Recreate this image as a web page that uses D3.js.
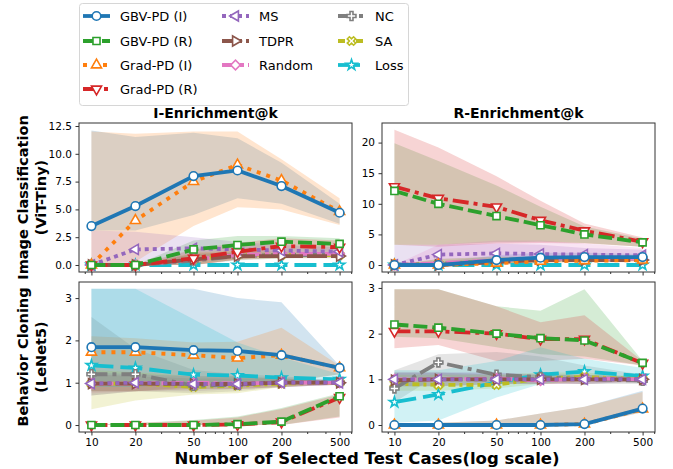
<!DOCTYPE html>
<html lang="en">
<head>
<meta charset="UTF-8">
<title>Enrichment@k – Image Classification and Behavior Cloning</title>
<script src="https://d3js.org/d3.v7.min.js"></script>
<style>
  body { margin: 0; background: #fff; font-family: "DejaVu Sans", sans-serif; }
  .tick text { fill: #000; font-size: 10.5px; font-family: "DejaVu Sans", sans-serif; }
  .tick line { stroke: #333; }
</style>
</head>
<body>
<div id="chart"></div>
<script>
  // x positions (number of selected test cases)
  var xVals = [10, 20, 50, 100, 200, 500];
  var xMinor = [9, 30, 40, 60, 70, 80, 90, 300, 400, 600];

  var seriesNames = ["GBV-PD (I)", "GBV-PD (R)", "Grad-PD (I)", "Grad-PD (R)", "MS",
                     "TDPR", "Random", "NC", "SA", "Loss"];

  // Image Classification (ViT-Tiny), I-Enrichment@k
  var icIMean = [
    [3.5, 5.3, 8.0, 8.5, 7.1, 4.7],
    [0, 0, 1.4, 1.8, 2.1, 1.9],
    [0, 4.0, 7.5, 9.0, 7.6, 4.8],
    [0, 0, 0.6, 1.2, 1.7, 1.6],
    [0, 1.4, 1.5, 1.4, 1.3, 1.2],
    [0, 0, 0.5, 0.8, 0.8, 0.8],
    [0, 0, 0.5, 0.9, 1.0, 1.0],
    [0, 0, 0.4, 0.8, 0.9, 0.9],
    [0, 0, 0.5, 0.9, 0.9, 0.9],
    [0, 0, 0, 0, 0, 0]
  ];
  var icILo = [
    [3.1, 3.1, 4.5, 6.0, 5.5, 3.7],
    [0, 0, 0.6, 1.0, 1.2, 1.2],
    [0, 0.3, 3.5, 5.2, 5.0, 3.6],
    [0, 0, 0, 0.5, 0.9, 1.0],
    [0, 0, 0.7, 0.8, 0.9, 0.9],
    [0, 0, 0, 0.5, 0.6, 0.6],
    [0, 0, 0, 0.5, 0.7, 0.8],
    [0, 0, 0, 0.4, 0.6, 0.7],
    [0, 0, 0, 0.5, 0.6, 0.7],
    [0, 0, 0, 0, 0, 0]
  ];
  var icIHi = [
    [12.1, 11.5, 11.9, 11.4, 9.2, 5.5],
    [0, 0, 2.2, 2.6, 2.6, 2.4],
    [12.0, 11.8, 12.0, 12.0, 9.5, 6.0],
    [0, 0, 1.4, 2.0, 2.4, 2.2],
    [3.1, 3.0, 2.5, 2.1, 1.8, 1.6],
    [0, 0, 1.0, 1.1, 1.0, 1.0],
    [0, 0, 1.1, 1.3, 1.3, 1.2],
    [0, 0, 1.0, 1.2, 1.2, 1.1],
    [0, 0, 1.1, 1.3, 1.2, 1.1],
    [0, 0, 0, 0, 0, 0]
  ];

  // Image Classification (ViT-Tiny), R-Enrichment@k
  var icRMean = [
    [0, 0, 0.8, 1.2, 1.3, 1.3],
    [12.1, 10.0, 8.0, 6.5, 5.0, 3.7],
    [0, 0, 0.3, 0.6, 0.7, 0.8],
    [12.8, 10.9, 9.5, 7.3, 5.6, 3.8],
    [0, 1.7, 1.9, 1.8, 1.7, 1.6],
    [0, 0, 0.5, 0.8, 0.8, 0.8],
    [0, 0.3, 0.8, 1.0, 1.0, 1.0],
    [0, 0.2, 0.6, 0.9, 0.9, 0.9],
    [0, 0.2, 0.7, 0.9, 1.0, 1.0],
    [0, 0, 0, 0, 0, 0]
  ];
  var icRLo = [
    [0, 0, 0.3, 0.6, 0.8, 0.8],
    [3.3, 3.3, 3.7, 3.8, 3.6, 3.0],
    [0, 0, 0, 0.3, 0.4, 0.5],
    [3.3, 3.0, 3.5, 3.6, 3.5, 3.0],
    [0, 0.6, 0.9, 0.9, 1.0, 1.0],
    [0, 0, 0, 0.5, 0.6, 0.6],
    [0, 0, 0.3, 0.6, 0.7, 0.8],
    [0, 0, 0.2, 0.5, 0.6, 0.7],
    [0, 0, 0.2, 0.5, 0.6, 0.7],
    [0, 0, 0, 0, 0, 0]
  ];
  var icRHi = [
    [0, 0.5, 1.6, 2.0, 2.0, 1.8],
    [19.9, 17.0, 13.0, 9.5, 6.3, 4.3],
    [0, 0.4, 0.8, 1.1, 1.2, 1.2],
    [22.1, 19.2, 14.5, 10.5, 6.8, 4.5],
    [3.3, 3.3, 3.5, 3.3, 2.8, 2.5],
    [0, 0, 1.0, 1.1, 1.1, 1.0],
    [0, 3.3, 4.0, 4.0, 3.5, 2.8],
    [0, 1.0, 1.4, 1.3, 1.3, 1.2],
    [0, 1.0, 1.3, 1.3, 1.3, 1.2],
    [0, 0, 0, 0, 0, 0]
  ];

  // Behavior Cloning (LeNet5), I-Enrichment@k
  var bcIMean = [
    [1.84, 1.84, 1.77, 1.75, 1.65, 1.35],
    [0, 0, 0, 0.02, 0.08, 0.68],
    [1.72, 1.72, 1.65, 1.58, 1.65, 1.35],
    [0, 0, 0, 0.01, 0.07, 0.65],
    [0.98, 1.0, 0.97, 0.97, 1.0, 1.0],
    [0.98, 0.98, 0.97, 0.97, 1.0, 1.0],
    [0.98, 0.98, 1.0, 0.98, 1.0, 1.0],
    [1.2, 1.2, 0.93, 0.95, 1.02, 1.0],
    [0.98, 0.98, 0.9, 0.93, 0.98, 1.0],
    [1.41, 1.35, 1.19, 1.17, 1.12, 1.08]
  ];
  var bcILo = [
    [0.8, 0.8, 0.9, 1.0, 1.0, 1.2],
    [0, 0, 0, 0, 0, 0.2],
    [0.8, 0.8, 0.9, 1.0, 1.0, 1.2],
    [0, 0, 0, 0, 0, 0.18],
    [0.7, 0.8, 0.8, 0.85, 0.9, 0.95],
    [0.8, 0.8, 0.85, 0.85, 0.9, 0.95],
    [0.75, 0.8, 0.85, 0.85, 0.9, 0.95],
    [0.7, 0.8, 0.75, 0.8, 0.9, 0.95],
    [0.37, 0.58, 0.72, 0.75, 0.9, 0.98],
    [0.9, 0.9, 1.0, 1.0, 1.0, 1.0]
  ];
  var bcIHi = [
    [3.22, 3.22, 3.22, 3.0, 2.9, 1.4],
    [0, 0.05, 0.12, 0.2, 0.4, 0.75],
    [2.1, 2.05, 1.95, 1.97, 2.3, 1.4],
    [0, 0.05, 0.1, 0.18, 0.38, 0.72],
    [1.25, 1.2, 1.15, 1.15, 1.1, 1.05],
    [1.2, 1.15, 1.1, 1.1, 1.1, 1.05],
    [1.2, 1.2, 1.15, 1.15, 1.1, 1.05],
    [2.55, 1.8, 1.3, 1.2, 1.15, 1.05],
    [1.3, 1.25, 1.15, 1.15, 1.1, 1.02],
    [3.22, 3.22, 2.5, 1.95, 1.6, 1.2]
  ];

  // Behavior Cloning (LeNet5), R-Enrichment@k
  var bcRMean = [
    [0, 0, 0, 0, 0.02, 0.36],
    [2.2, 2.13, 2.0, 1.9, 1.85, 1.36],
    [0, 0, 0, 0, 0.02, 0.35],
    [2.05, 2.05, 2.0, 1.88, 1.88, 1.35],
    [1.0, 1.0, 1.0, 1.0, 1.0, 1.0],
    [0.98, 1.0, 1.0, 1.0, 1.0, 1.0],
    [1.0, 1.0, 1.02, 0.97, 1.02, 1.0],
    [0.8, 1.37, 1.1, 1.05, 1.0, 0.97],
    [0.9, 0.88, 0.88, 1.02, 1.05, 1.0],
    [0.5, 0.67, 0.93, 1.1, 1.17, 1.07]
  ];
  var bcRLo = [
    [0, 0, 0, 0, 0, 0.28],
    [1.93, 1.9, 1.7, 1.55, 1.5, 1.3],
    [0, 0, 0, 0, 0, 0.28],
    [1.68, 1.75, 1.4, 1.4, 1.45, 1.3],
    [0.85, 0.85, 0.9, 0.9, 0.9, 0.95],
    [0.85, 0.85, 0.9, 0.9, 0.9, 0.95],
    [0.85, 0.85, 0.9, 0.9, 0.95, 0.95],
    [0.5, 1.1, 0.9, 0.95, 0.9, 0.9],
    [0.75, 0.75, 0.8, 0.9, 0.95, 0.95],
    [0.05, 0.1, 0.6, 0.9, 1.0, 0.95]
  ];
  var bcRHi = [
    [0, 0.05, 0.1, 0.25, 0.4, 0.75],
    [2.97, 2.97, 2.6, 2.5, 2.97, 1.4],
    [0, 0.05, 0.1, 0.25, 0.4, 0.72],
    [2.97, 2.97, 2.6, 2.25, 2.4, 1.4],
    [1.15, 1.15, 1.15, 1.1, 1.1, 1.05],
    [1.15, 1.15, 1.1, 1.1, 1.1, 1.05],
    [1.15, 1.15, 1.15, 1.1, 1.1, 1.05],
    [1.2, 1.55, 1.6, 1.5, 1.3, 1.1],
    [1.1, 1.1, 1.1, 1.15, 1.15, 1.05],
    [1.2, 1.2, 1.4, 1.7, 1.45, 1.25]
  ];

  var icITicks = [0, 2.5, 5, 7.5, 10, 12.5];
  var icRTicks = [0, 5, 10, 15, 20];
  var bcTicks = [0, 1, 2, 3];

  // styling per series (marker area in px^2)
  var styles = [
    { color: "#1f77b4", dash: null,          shape: d3.symbolCircle,   rot: 0,   size: 58 },
    { color: "#2ca02c", dash: "14,5",        shape: d3.symbolSquare,   rot: 0,   size: 50 },
    { color: "#ff7f0e", dash: "4,6",         shape: d3.symbolTriangle, rot: 0,   size: 44 },
    { color: "#d62728", dash: "16,5,4,5",    shape: d3.symbolTriangle, rot: 180, size: 44 },
    { color: "#9467bd", dash: "4,4",         shape: d3.symbolTriangle, rot: -90, size: 44 },
    { color: "#8c564b", dash: "20,4",        shape: d3.symbolTriangle, rot: 90,  size: 44 },
    { color: "#e377c2", dash: "14,4,4,4",    shape: d3.symbolSquare,   rot: 45,  size: 46 },
    { color: "#7f7f7f", dash: "16,5,4,5",    shape: d3.symbolCross,    rot: 0,   size: 44 },
    { color: "#bcbd22", dash: "7,4,3,4",     shape: d3.symbolCross,    rot: 45,  size: 44 },
    { color: "#17becf", dash: "22,7",        shape: d3.symbolStar,     rot: 0,   size: 34 }
  ];

  var W = 673, H = 469;
  var svg = d3.select("#chart").append("svg")
    .attr("width", W).attr("height", H);

  var panels = [
    { mean: icIMean, lo: icILo, hi: icIHi, x0: 79,  x1: 352, y0: 123, y1: 272,
      yDomain: [-0.63, 12.77], ticks: icITicks, fmt: d3.format(".1f"), xLabels: false },
    { mean: icRMean, lo: icRLo, hi: icRHi, x0: 382, x1: 655, y0: 123, y1: 272,
      yDomain: [-1.14, 23.2], ticks: icRTicks, fmt: d3.format("d"), xLabels: false },
    { mean: bcIMean, lo: bcILo, hi: bcIHi, x0: 79,  x1: 352, y0: 282, y1: 432,
      yDomain: [-0.165, 3.38], ticks: bcTicks, fmt: d3.format("d"), xLabels: true },
    { mean: bcRMean, lo: bcRLo, hi: bcRHi, x0: 382, x1: 655, y0: 282, y1: 432,
      yDomain: [-0.153, 3.13], ticks: bcTicks, fmt: d3.format("d"), xLabels: true }
  ];

  function markerPath(s) {
    return d3.symbol().type(s.shape).size(s.size)();
  }

  panels.forEach(function(p) {
    var x = d3.scaleLog().domain([8.22, 608]).range([p.x0, p.x1]);
    var y = d3.scaleLinear().domain(p.yDomain).range([p.y1, p.y0]);
    var g = svg.append("g");

    // shaded ranges
    var area = d3.area()
      .x(function(d, i) { return x(xVals[i]); })
      .y0(function(d) { return y(d[0]); })
      .y1(function(d) { return y(d[1]); });

    seriesNames.forEach(function(name, k) {
      var pts = p.lo[k].map(function(v, i) { return [v, p.hi[k][i]]; });
      g.append("path")
        .attr("d", area(pts))
        .attr("fill", styles[k].color)
        .attr("fill-opacity", 0.2)
        .attr("stroke", "none");
    });

    var line = d3.line()
      .x(function(d, i) { return x(xVals[i]); })
      .y(function(d) { return y(d); });

    // draw from last to first so GBV-PD ends on top
    d3.range(seriesNames.length - 1, -1, -1).forEach(function(k) {
      var s = styles[k];
      g.append("path")
        .attr("d", line(p.mean[k]))
        .attr("fill", "none")
        .attr("stroke", s.color)
        .attr("stroke-width", 3.8)
        .attr("stroke-dasharray", s.dash);
      g.selectAll(null)
        .data(p.mean[k])
        .enter().append("path")
        .attr("d", markerPath(s))
        .attr("transform", function(d, i) {
          return "translate(" + x(xVals[i]) + "," + y(d) + ") rotate(" + s.rot + ")";
        })
        .attr("fill", "#fff")
        .attr("stroke", s.color)
        .attr("stroke-width", 1.6);
    });

    // axes
    var xAxis = g.append("g")
      .attr("transform", "translate(0," + p.y1 + ")")
      .call(d3.axisBottom(x).tickValues(xVals)
        .tickFormat(p.xLabels ? d3.format("d") : "")
        .tickSize(3.5).tickPadding(3.5));
    xAxis.select(".domain").remove();

    var xMinorAxis = g.append("g")
      .attr("transform", "translate(0," + p.y1 + ")")
      .call(d3.axisBottom(x).tickValues(xMinor).tickFormat("").tickSize(2));
    xMinorAxis.select(".domain").remove();

    var yAxis = g.append("g")
      .attr("transform", "translate(" + p.x0 + ",0)")
      .call(d3.axisLeft(y).tickValues(p.ticks).tickFormat(p.fmt)
        .tickSize(3.5).tickPadding(3.5));
    yAxis.select(".domain").remove();

    g.append("rect")
      .attr("x", p.x0).attr("y", p.y0)
      .attr("width", p.x1 - p.x0).attr("height", p.y1 - p.y0)
      .attr("fill", "none")
      .attr("stroke", "#333")
      .attr("stroke-width", 1);
  });

  // column titles
  svg.append("text")
    .attr("x", 215.5).attr("y", 118)
    .attr("text-anchor", "middle")
    .style("font-weight", "bold").style("font-size", "14px")
    .text("I-Enrichment@k");
  svg.append("text")
    .attr("x", 518.5).attr("y", 118)
    .attr("text-anchor", "middle")
    .style("font-weight", "bold").style("font-size", "14px")
    .text("R-Enrichment@k");

  // row titles
  var rowLabels = [
    { cy: 197.5, lines: ["Image Classification", "(ViT-Tiny)"] },
    { cy: 357, lines: ["Behavior Cloning", "(LeNet5)"] }
  ];
  rowLabels.forEach(function(r) {
    r.lines.forEach(function(t, j) {
      var bx = j === 0 ? 28 : 46;
      svg.append("text")
        .attr("transform", "translate(" + bx + "," + r.cy + ") rotate(-90)")
        .attr("text-anchor", "middle")
        .style("font-weight", "bold").style("font-size", "14.5px")
        .text(t);
    });
  });

  // x axis title
  svg.append("text")
    .attr("x", 367).attr("y", 464)
    .attr("text-anchor", "middle")
    .style("font-weight", "bold").style("font-size", "16.5px")
    .text("Number of Selected Test Cases(log scale)");

  // legend
  var legend = svg.append("g");
  legend.append("rect")
    .attr("x", 79.5).attr("y", 3.5)
    .attr("width", 329).attr("height", 102)
    .attr("rx", 3)
    .attr("fill", "#fff")
    .attr("stroke", "#d6d6d6");

  var rowY = [16, 41, 65, 89];
  var colHandle = [83, 222, 338];
  var colText = [120, 259, 375];
  var colOf = [0, 0, 0, 0, 1, 1, 1, 2, 2, 2];
  var rowOf = [0, 1, 2, 3, 0, 1, 2, 0, 1, 2];

  seriesNames.forEach(function(name, k) {
    var s = styles[k];
    var hx = colHandle[colOf[k]], ly = rowY[rowOf[k]];
    legend.append("line")
      .attr("x1", hx).attr("x2", hx + 27)
      .attr("y1", ly).attr("y2", ly)
      .attr("stroke", s.color)
      .attr("stroke-width", 3.8)
      .attr("stroke-dasharray", s.dash);
    legend.append("path")
      .attr("d", markerPath(s))
      .attr("transform", "translate(" + (hx + 13.5) + "," + ly + ") rotate(" + s.rot + ")")
      .attr("fill", "#fff")
      .attr("stroke", s.color)
      .attr("stroke-width", 1.6);
    legend.append("text")
      .attr("x", colText[colOf[k]]).attr("y", ly + 4.5)
      .style("font-size", "13px")
      .text(name);
  });
</script>
</body>
</html>
